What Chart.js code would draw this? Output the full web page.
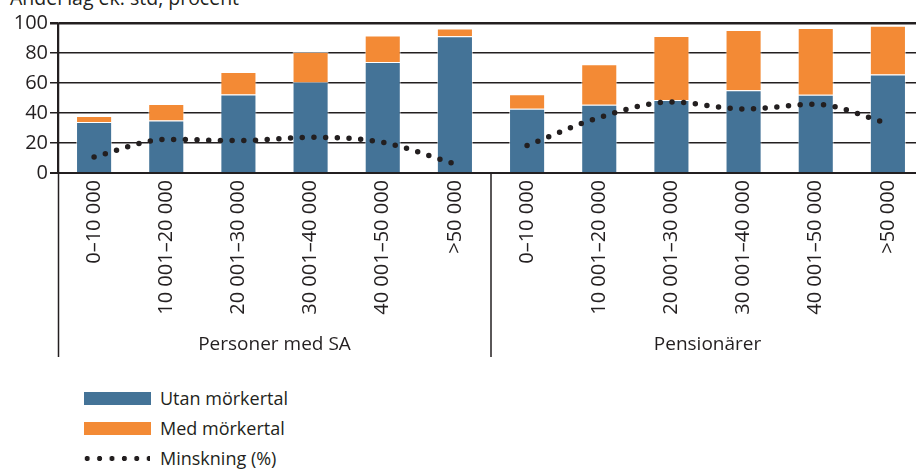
<!DOCTYPE html>
<html>
<head>
<meta charset="utf-8">
<script src="https://cdn.jsdelivr.net/npm/chart.js@4"></script>
<style>
  html,body{margin:0;padding:0;background:#fff;overflow:hidden;}
  body{width:916px;height:471px;position:relative;font-family:"Open Sans",sans-serif;color:#231f20;}
  #title{position:absolute;left:10px;top:-12px;font-size:19.5px;line-height:20px;white-space:nowrap;}
  #wrap{position:absolute;left:0;top:0;width:924px;height:373px;}
  #legend{position:absolute;left:84px;top:384px;font-size:18px;}
  .row{position:relative;height:30px;}
  .sw{position:absolute;left:0;top:8px;width:67px;height:13px;}
  .dots{position:absolute;left:-3px;top:11px;width:69px;height:7px;
        background:radial-gradient(circle,#231f20 2.4px,transparent 2.9px);background-size:12.4px 7px;}
  .lab{position:absolute;left:76px;top:0;line-height:28px;white-space:nowrap;}
</style>
</head>
<body>
<div id="title">Andel låg ek. std, procent</div>
<div id="wrap"><canvas id="c" width="924" height="373"></canvas></div>
<div id="legend"></div>
<script>
const categories = ['0–10 000','10 001–20 000','20 001–30 000','30 001–40 000','40 001–50 000','>50 000',
                    '0–10 000','10 001–20 000','20 001–30 000','30 001–40 000','40 001–50 000','>50 000'];
const groups = ['Personer med SA','Pensionärer'];
const groupSize = 6;
const utanMorkertal = [34, 35, 52.4, 60.7, 74, 91.1, 42.9, 45.5, 48.7, 55.1, 52.2, 65.6];
const medMorkertal  = [4, 11, 15, 20, 17.6, 5.3, 9.6, 27, 42.6, 40.2, 44.5, 32.6];
const minskning     = [10.7, 22.4, 21.6, 23.8, 20.4, 6, 18.3, 37, 47.3, 42.7, 45.8, 33];
const yTicks = [0, 20, 40, 60, 80, 100];
const seriesNames = ['Utan mörkertal', 'Med mörkertal', 'Minskning (%)'];

const BLUE = '#447397', ORANGE = '#f38a35', INK = '#231f20';

const lineStyle = {
  type: 'line', borderColor: INK, borderWidth: 5.5, borderDash: [0, 11.7], borderCapStyle: 'round',
  pointRadius: 0, fill: false, cubicInterpolationMode: 'monotone', order: 0, spanGaps: false
};

const groupPlugin = {
  id: 'groups',
  afterDraw(chart) {
    const ctx = chart.ctx, x = chart.scales.x, area = chart.chartArea;
    ctx.save();
    ctx.strokeStyle = INK; ctx.lineWidth = 1.5;
    const bottom = 357;
    ctx.beginPath(); ctx.moveTo(area.left + 0.5, area.top); ctx.lineTo(area.left + 0.5, bottom); ctx.stroke();
    ctx.fillStyle = INK;
    ctx.font = '19px "Open Sans"';
    ctx.textAlign = 'center'; ctx.textBaseline = 'middle';
    for (let g = 0; g < groups.length; g++) {
      const i0 = g * groupSize, i1 = i0 + groupSize - 1;
      const half = (x.getPixelForValue(1) - x.getPixelForValue(0)) / 2;
      const left = x.getPixelForValue(i0) - half, right = x.getPixelForValue(i1) + half;
      if (g > 0) {
        ctx.beginPath(); ctx.moveTo(left, area.bottom); ctx.lineTo(left, bottom); ctx.stroke();
      }
      ctx.fillText(groups[g], (left + right) / 2, 345);
    }
    ctx.restore();
  }
};

new Chart(document.getElementById('c'), {
  data: {
    labels: categories,
    datasets: [
      { type: 'bar', label: seriesNames[0], data: utanMorkertal, backgroundColor: BLUE,
        borderColor: 'rgba(255,255,255,0.55)', borderWidth: 1, borderSkipped: 'bottom', order: 1,
        barPercentage: 0.5, categoryPercentage: 1 },
      { type: 'bar', label: seriesNames[1], data: medMorkertal, backgroundColor: ORANGE,
        borderColor: 'rgba(255,255,255,0.55)', borderWidth: 1, borderSkipped: 'bottom', order: 1,
        barPercentage: 0.5, categoryPercentage: 1 },
      Object.assign({ label: seriesNames[2], data: minskning.map((v, i) => i < groupSize ? v : null) }, lineStyle),
      Object.assign({ label: seriesNames[2] + ' ', data: minskning.map((v, i) => i >= groupSize ? v : null) }, lineStyle)
    ]
  },
  options: {
    responsive: false, animation: false, devicePixelRatio: 1,
    layout: { padding: { top: 23, right: 0, left: 0, bottom: 0 } },
    plugins: { legend: { display: false }, tooltip: { enabled: false } },
    scales: {
      x: {
        stacked: true,
        grid: { display: false, drawTicks: false },
        border: { display: true, color: INK, width: 2 },
        ticks: { color: INK, font: { family: 'Open Sans', size: 20 }, minRotation: 90, maxRotation: 90,
                 padding: 7, autoSkip: false },
        afterFit(s) { s.height = 200; }
      },
      y: {
        stacked: true, min: 0, max: 100,
        afterBuildTicks(s) { s.ticks = yTicks.map(v => ({ value: v })); },
        grid: { color: INK, lineWidth: c => c.tick && c.tick.value === 100 ? 2.5 : (c.tick && c.tick.value === 0 ? 2 : 1.5),
                tickLength: 8, drawTicks: true },
        border: { display: true, color: INK, width: 1.5 },
        ticks: { color: INK, font: { family: 'Open Sans', size: 20 }, padding: 2 },
        afterFit(s) { s.width = 58; }
      }
    }
  },
  plugins: [groupPlugin]
});

const leg = document.getElementById('legend');
const swatches = [BLUE, ORANGE, null];
seriesNames.forEach((n, i) => {
  const r = document.createElement('div'); r.className = 'row';
  const s = document.createElement('div');
  if (swatches[i]) { s.className = 'sw'; s.style.background = swatches[i]; } else { s.className = 'dots'; }
  const t = document.createElement('div'); t.className = 'lab'; t.textContent = n;
  r.appendChild(s); r.appendChild(t); leg.appendChild(r);
});
</script>
</body>
</html>
